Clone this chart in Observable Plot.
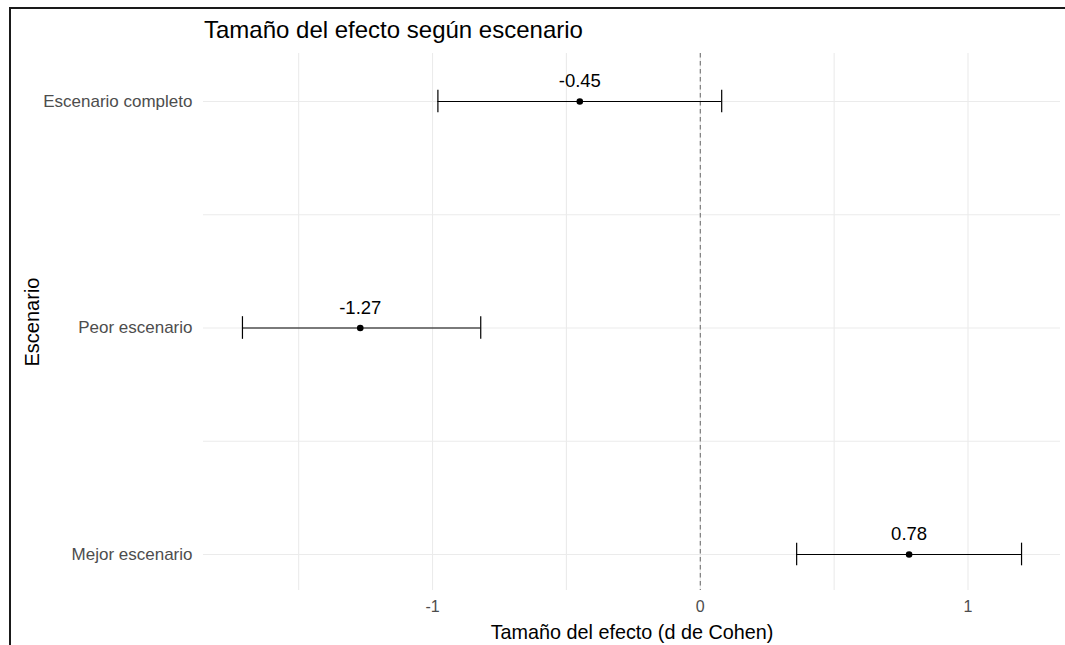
<!DOCTYPE html>
<html>
<head>
<meta charset="utf-8">
<script src="https://cdn.jsdelivr.net/npm/d3@7"></script>
<script src="https://cdn.jsdelivr.net/npm/@observablehq/plot@0.6"></script>
<style>
  html, body { margin: 0; padding: 0; background: #fff; }
  #wrap { position: relative; width: 1065px; height: 645px; overflow: hidden; font-family: "Liberation Sans", Arial, sans-serif; }
  #frame { position: absolute; left: 9px; top: 7px; width: 1100px; height: 700px; border-top: 2.5px solid #1a1a1a; border-left: 2.5px solid #1a1a1a; }
  #title { position: absolute; left: 204px; top: 16px; font-size: 24px; color: #000; white-space: nowrap; }
  #chart { position: absolute; left: 0; top: 0; }
</style>
</head>
<body>
<div id="wrap">
  <div id="frame"></div>
  <div id="chart"></div>
  <div id="title">Tamaño del efecto según escenario</div>
</div>
<script>
const categories = ["Escenario completo", "Peor escenario", "Mejor escenario"];
const estimates = [-0.45, -1.27, 0.78];
const lowerCI = [-0.98, -1.71, 0.36];
const upperCI = [0.08, -0.82, 1.20];
const xTicks = [-1, 0, 1];
const xTitle = "Tamaño del efecto (d de Cohen)";
const yTitle = "Escenario";

const data = categories.map((c, i) => ({
  cat: c, idx: i + 1, est: estimates[i], lo: lowerCI[i], hi: upperCI[i]
}));

const lo = d3.min(lowerCI), hi = d3.max(upperCI);
const pad = 0.05 * (hi - lo);
const xDomain = [lo - pad, hi + pad];
const xGrid = d3.range(Math.ceil(xDomain[0] * 2) / 2, xDomain[1], 0.5);
const yGrid = d3.range(1, categories.length + 0.01, 0.5);

const font = "'Liberation Sans', Arial, sans-serif";

const chart = Plot.plot({
  width: 1065,
  height: 645,
  marginLeft: 203,
  marginRight: 5,
  marginTop: 53,
  marginBottom: 55,
  style: { fontFamily: font, background: "transparent" },
  x: { domain: xDomain },
  y: { domain: [0.788, 3.159], reverse: true },
  marks: [
    Plot.ruleX(xGrid, { stroke: "#ebebeb", strokeWidth: 1.1 }),
    Plot.ruleY(yGrid, { stroke: "#ebebeb", strokeWidth: 1.1 }),
    Plot.ruleX([0], { stroke: "#666", strokeWidth: 1, strokeDasharray: "4.5,3.5" }),
    Plot.ruleY(data, { y: "idx", x1: "lo", x2: "hi", stroke: "#000", strokeWidth: 1.2 }),
    Plot.ruleX(data, { x: "lo", y1: d => d.idx - 0.05, y2: d => d.idx + 0.05, stroke: "#000", strokeWidth: 1.2 }),
    Plot.ruleX(data, { x: "hi", y1: d => d.idx - 0.05, y2: d => d.idx + 0.05, stroke: "#000", strokeWidth: 1.2 }),
    Plot.dot(data, { x: "est", y: "idx", r: 3.3, fill: "#000", stroke: "none" }),
    Plot.text(data, { x: "est", y: "idx", text: d => d.est.toFixed(2), dy: -20, fontSize: 18.5, fill: "#000" }),
    Plot.axisX({ ticks: xTicks, tickSize: 0, tickPadding: 10, fontSize: 16, color: "#4d4d4d", label: null, tickFormat: d => String(d) }),
    Plot.axisY({ ticks: [1, 2, 3], tickFormat: i => categories[i - 1], tickSize: 0, tickPadding: 11, fontSize: 17, color: "#4d4d4d", label: null }),
    Plot.text([xTitle], { frameAnchor: "bottom", dy: 42, textAnchor: "middle", lineAnchor: "middle", fontSize: 19.8, fill: "#000" }),
    Plot.text([yTitle], { frameAnchor: "left", dx: -171, rotate: -90, textAnchor: "middle", lineAnchor: "middle", fontSize: 20, fill: "#000" })
  ]
});
document.getElementById("chart").appendChild(chart);
</script>
</body>
</html>
